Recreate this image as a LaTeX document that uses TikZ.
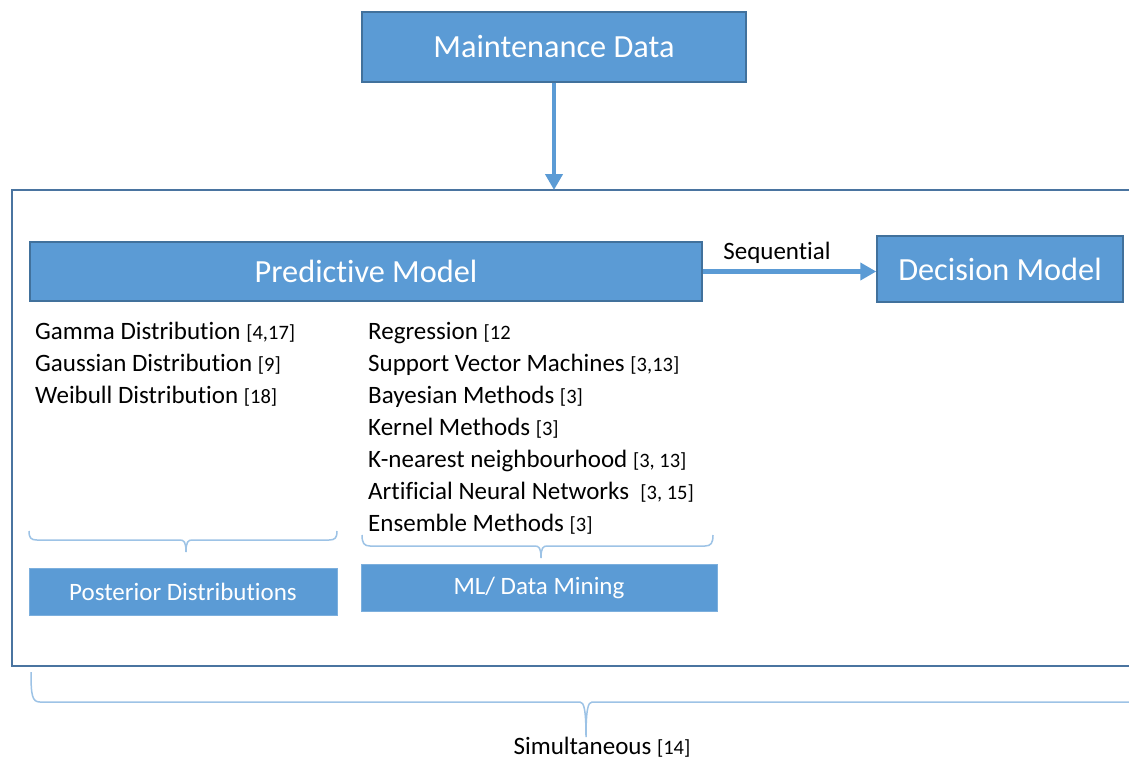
\documentclass[tikz,border=0pt]{standalone}
\usepackage{fontspec}
\setmainfont{Carlito}[Ligatures=NoCommon, RawFeature={-liga}]
\usetikzlibrary{arrows.meta}
\definecolor{boxfill}{HTML}{5B9BD5}
\definecolor{boxline}{HTML}{41719C}
\definecolor{bracecol}{HTML}{9DC3E6}
\definecolor{framecol}{HTML}{4A74A0}
\newcommand\rf[1]{{\fontsize{20.5}{24}\selectfont #1}}
\begin{document}
\begin{tikzpicture}[x=1pt,y=-1pt,
  bigbox/.style={draw=boxline, line width=1.5pt, fill=boxfill, text=white, font=\fontsize{32.3}{38}\selectfont, inner sep=0pt},
  smallbox/.style={draw=boxfill!80!white, line width=0.8pt, fill=boxfill, text=white, font=\fontsize{25}{30}\selectfont, inner sep=0pt},
  item/.style={anchor=base west, inner sep=0pt, font=\fontsize{25}{30}\selectfont},
  lbl/.style={anchor=base, inner sep=0pt, font=\fontsize{25}{30}\selectfont},
  flow/.style={draw=boxfill, line width=4.5pt, -{Triangle[length=16pt,width=17pt]}},
  brace/.style={draw=bracecol, line width=1.5pt}]
\useasboundingbox (0,0) rectangle (1129,760);
\fill[white] (0,0) rectangle (1129,760);

% outer frame (open at the right)
\draw[framecol, line width=2pt] (1129,190) -- (12,190) -- (12,666) -- (1129,666);
\coordinate (frameTop) at (553,190);

% boxes
\node[bigbox, minimum width=384pt, minimum height=70pt] (md) at (554,47) {Maintenance Data};
\node[bigbox, minimum width=672pt, minimum height=59pt] (pm) at (366,271.5) {Predictive Model};
\node[bigbox, minimum width=246pt, minimum height=66pt] (dm) at (1000,269) {Decision Model};
\node[smallbox, minimum width=308pt, minimum height=47pt] (pd) at (183,591.5) {Posterior Distributions};
\node[smallbox, minimum width=356pt, minimum height=47pt] (ml) at (539,587.5) {ML/ Data Mining};

% connectors
\draw[flow] (md.south) -- (md.south |- frameTop);
\draw[flow] (pm.east) -- (pm.east -| dm.west);
\node[lbl] (seq) at (777,259) {Sequential};

% left list
\node[item] (g1) at (35,339) {Gamma Distribution \rf{[4,17]}};
\node[item] (g2) at (35,371) {Gaussian Distribution \rf{[9]}};
\node[item] (g3) at (35,403) {Weibull Distribution \rf{[18]}};

% right list
\node[item] (r1) at (368,339) {Regression \rf{[12}};
\node[item] (r2) at (368,371) {Support Vector Machines \rf{[3,13]}};
\node[item] (r3) at (368,403) {Bayesian Methods \rf{[3]}};
\node[item] (r4) at (368,435) {Kernel Methods \rf{[3]}};
\node[item] (r5) at (368,467) {K-nearest neighbourhood \rf{[3, 13]}};
\node[item] (r6) at (368,499) {Artificial Neural Networks \ \rf{[3, 15]}};
\node[item] (r7) at (368,531) {Ensemble Methods \rf{[3]}};

% braces
\draw[brace] (29,531) .. controls (29,538) and (31,540) .. (37,540) -- (180,540)
  .. controls (184,540) and (186,542) .. (186,552)
  .. controls (186,542) and (188,540) .. (192,540) -- (329,540)
  .. controls (335,540) and (337,538) .. (337,531);
\draw[brace] (362,535) .. controls (362,543) and (364,546) .. (370,546) -- (535,546)
  .. controls (539,546) and (541,548) .. (541,558)
  .. controls (541,548) and (543,546) .. (547,546) -- (705,546)
  .. controls (711,546) and (713,543) .. (713,535);
\draw[brace] (31,672) .. controls (31,695) and (32,702) .. (40,702) -- (580,702)
  .. controls (584,702) and (586,710) .. (586,737)
  .. controls (586,710) and (588,702) .. (592,702) -- (1129,702);
\node[lbl] (sim) at (602,754) {Simultaneous \rf{[14]}};
\end{tikzpicture}
\end{document}
